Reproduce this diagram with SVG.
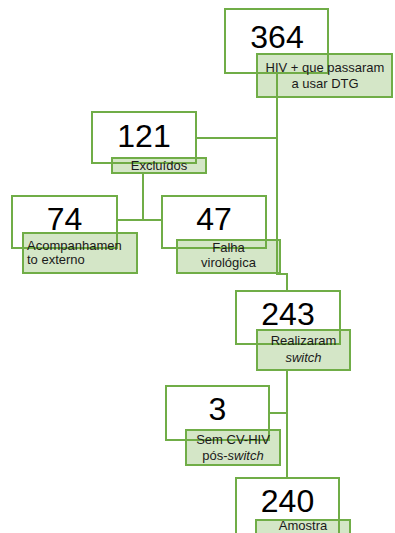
<svg xmlns="http://www.w3.org/2000/svg" width="395" height="533" viewBox="0 0 395 533">
<style>
.box{fill:#ffffff;stroke:#70AD47;stroke-width:2}
.lab{fill:#70AD47;fill-opacity:0.3;stroke:#70AD47;stroke-width:2}
.num{font-family:"Liberation Sans",Arial,sans-serif;font-size:32px;fill:#000;text-anchor:middle}
.t{font-family:"Liberation Sans",Arial,sans-serif;font-size:13px;fill:#1a1a1a;text-anchor:middle}
.con{fill:none;stroke:#70AD47;stroke-width:2}
</style>
<rect width="395" height="533" fill="#ffffff"/>
<g id="connectors" class="con">
<path d="M277 74 V274 H287 V291"/>
<path d="M196 138 H277"/>
<path d="M143 173 V220"/>
<path d="M117 220 H162"/>
<path d="M287 370 V478"/>
<path d="M269 413 H287"/>
</g>
<g id="n364">
<rect class="box" x="225" y="9" width="103" height="64"/>
<text class="num" x="277" y="48">364</text>
<rect class="lab" x="257" y="54" width="135" height="43"/>
<text class="t" x="325" y="72">HIV + que passaram</text>
<text class="t" x="325" y="88">a usar DTG</text>
</g>
<g id="n121">
<rect class="box" x="92" y="112" width="104" height="51"/>
<text class="num" x="144" y="147">121</text>
<rect class="lab" x="112" y="158" width="94" height="15"/>
<text class="t" x="159" y="169.5">Excluídos</text>
</g>
<g id="n74">
<rect class="box" x="12" y="196" width="105" height="52"/>
<text class="num" x="64.5" y="230">74</text>
<rect class="lab" x="23" y="233" width="114" height="40"/>
<text class="t" x="27" y="250" style="text-anchor:start">Acompanhamen</text>
<text class="t" x="27" y="264" style="text-anchor:start">to externo</text>
</g>
<g id="n47">
<rect class="box" x="162" y="196" width="104" height="52"/>
<text class="num" x="214" y="230">47</text>
<rect class="lab" x="177" y="240" width="103" height="33"/>
<text class="t" x="228.5" y="252">Falha</text>
<text class="t" x="228.5" y="267">virológica</text>
</g>
<g id="n243">
<rect class="box" x="236" y="291" width="104" height="53"/>
<text class="num" x="288" y="325">243</text>
<rect class="lab" x="257" y="330" width="93" height="40"/>
<text class="t" x="303.5" y="345">Realizaram</text>
<text class="t" x="303.5" y="362" font-style="italic">switch</text>
</g>
<g id="n3">
<rect class="box" x="166" y="386" width="103" height="54"/>
<text class="num" x="217.5" y="420">3</text>
<rect class="lab" x="186" y="430" width="94" height="35"/>
<text class="t" x="233" y="444">Sem CV-HIV</text>
<text class="t" x="233" y="460">pós-<tspan font-style="italic">switch</tspan></text>
</g>
<g id="n240">
<rect class="box" x="236" y="478" width="103" height="70"/>
<text class="num" x="287.5" y="512">240</text>
<rect class="lab" x="256" y="520" width="94" height="30"/>
<text class="t" x="303" y="529.5">Amostra</text>
</g>
</svg>
